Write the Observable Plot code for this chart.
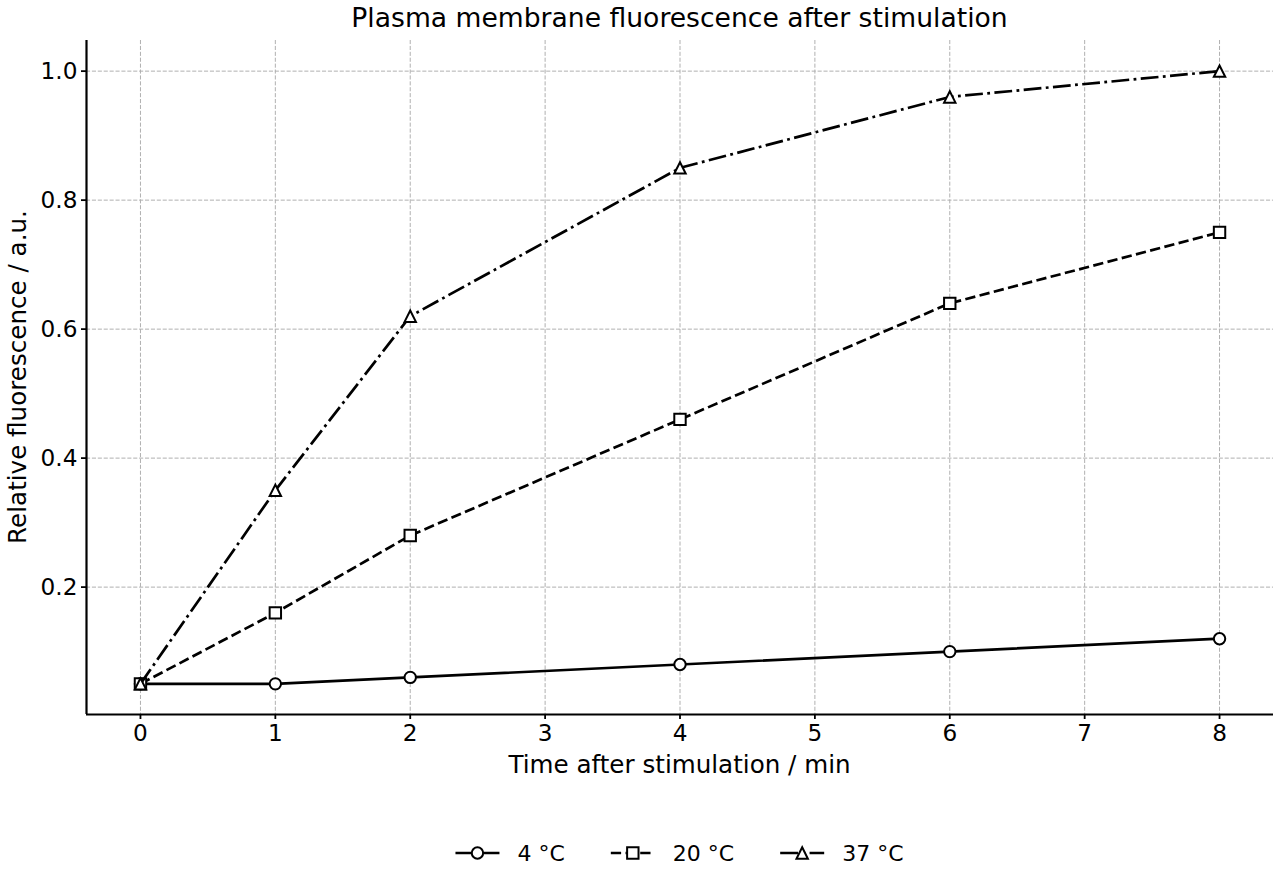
<!DOCTYPE html>
<html>
<head>
<meta charset="utf-8">
<script src="https://cdn.jsdelivr.net/npm/d3@7"></script>
<script src="https://cdn.jsdelivr.net/npm/@observablehq/plot@0.6"></script>
<style>
  body { margin: 0; background: #fff; }
  #fig { position: relative; width: 1280px; height: 880px; overflow: hidden; }
  #fig svg { display: block; }
</style>
</head>
<body>
<div id="fig"></div>
<script>
// ---- data ----
const times = [0, 1, 2, 4, 6, 8];
const seriesNames = ["4 °C", "20 °C", "37 °C"];
const values4C = [0.05, 0.05, 0.06, 0.08, 0.10, 0.12];
const values20C = [0.05, 0.16, 0.28, 0.46, 0.64, 0.75];
const values37C = [0.05, 0.35, 0.62, 0.85, 0.96, 1.00];
const xTicks = [0, 1, 2, 3, 4, 5, 6, 7, 8];
const yTicks = [0.2, 0.4, 0.6, 0.8, 1.0];
const titleText = "Plasma membrane fluorescence after stimulation";
const xLabelText = "Time after stimulation / min";
const yLabelText = "Relative fluorescence / a.u.";

const seriesValues = [values4C, values20C, values37C];
const rows = seriesNames.flatMap((s, i) => times.map((t, j) => ({series: s, time: t, value: seriesValues[i][j]})));

// ---- styles ----
const FONT = "DejaVu Sans, sans-serif";
const TICK_FS = 23.2;
const symCircle = {draw(ctx, size) { const r = Math.sqrt(size / Math.PI); ctx.moveTo(r, 0); ctx.arc(0, 0, r, 0, 2 * Math.PI); }};
const symSquare = {draw(ctx, size) { const r = Math.sqrt(size / Math.PI); ctx.rect(-r, -r, 2 * r, 2 * r); }};
const symTriangle = {draw(ctx, size) { const r = Math.sqrt(size / Math.PI); ctx.moveTo(0, -r); ctx.lineTo(r, r); ctx.lineTo(-r, r); ctx.closePath(); }};
const seriesStyle = {
  "4 °C": {symbol: symCircle, dash: null},
  "20 °C": {symbol: symSquare, dash: "10.3,4.4"},
  "37 °C": {symbol: symTriangle, dash: "17.8,4.4,2.8,4.4"}
};
const markerR = 5.7;
const lineW = 2.7;

const xDomain = [-0.4, 8.4];
const yDomain = [0.0025, 1.0475];
const gridStyle = {stroke: "#b0b0b0", strokeOpacity: 1, strokeWidth: 1, strokeDasharray: "4.1,1.8"};

const seriesMarks = seriesNames.flatMap(s => {
  const data = rows.filter(d => d.series === s);
  const st = seriesStyle[s];
  return [
    Plot.line(data, {x: "time", y: "value", stroke: "black", strokeWidth: lineW, strokeDasharray: st.dash, strokeLinecap: "butt", strokeLinejoin: "round"}),
    Plot.dot(data, {x: "time", y: "value", symbol: st.symbol, r: markerR, fill: "white", stroke: "black", strokeWidth: 2})
  ];
});

const chart = Plot.plot({
  width: 1280,
  height: 880,
  marginLeft: 86,
  marginRight: 7,
  marginTop: 40,
  marginBottom: 166,
  style: {fontFamily: FONT, fontSize: TICK_FS + "px", color: "black", background: "white"},
  x: {domain: xDomain},
  y: {domain: yDomain},
  marks: [
    Plot.gridX(xTicks, gridStyle),
    Plot.gridY(yTicks, gridStyle),
    Plot.axisX({ticks: xTicks, tickSize: 5, tickPadding: 5.5, strokeWidth: 1.8, fontSize: TICK_FS, fontFamily: FONT, tickFormat: d => String(d), label: null}),
    Plot.axisY({ticks: yTicks, tickSize: 5, tickPadding: 4, strokeWidth: 1.8, fontSize: TICK_FS, fontFamily: FONT, tickFormat: d3.format(".1f"), label: null}),
    Plot.ruleX([xDomain[0]], {stroke: "black", strokeWidth: 2.2}),
    Plot.ruleY([yDomain[0]], {stroke: "black", strokeWidth: 2.2}),
    ...seriesMarks
  ]
});

document.getElementById("fig").appendChild(chart);

const svg = d3.select(chart);
// enforce tick label size (only tick labels are text at this point)
svg.selectAll("text").style("font-size", TICK_FS + "px").style("font-family", FONT);

// ---- title, axis labels, legend ----
const plotCx = (86 + 1273) / 2;
svg.append("text").attr("x", plotCx).attr("y", 27).attr("text-anchor", "middle")
  .style("font-family", FONT).style("font-size", "26.6px").attr("fill", "black").text(titleText);
svg.append("text").attr("x", plotCx).attr("y", 773).attr("text-anchor", "middle")
  .style("font-family", FONT).style("font-size", "24.6px").attr("fill", "black").text(xLabelText);
svg.append("text").attr("transform", `translate(26,${(40 + 714) / 2}) rotate(-90)`).attr("text-anchor", "middle")
  .style("font-family", FONT).style("font-size", "24.6px").attr("fill", "black").text(yLabelText);

const legend = svg.append("g").attr("text-anchor", "start");
const ly = 853;
const items = seriesNames.map(s => {
  const g = legend.append("g");
  const st = seriesStyle[s];
  g.append("line").attr("x1", 0).attr("x2", 44).attr("y1", ly).attr("y2", ly)
    .attr("stroke", "black").attr("stroke-width", lineW).attr("stroke-dasharray", st.dash).attr("stroke-linecap", "butt");
  const p = d3.path();
  st.symbol.draw(p, Math.PI * markerR * markerR);
  g.append("path").attr("d", p.toString()).attr("transform", `translate(22,${ly})`)
    .attr("fill", "white").attr("stroke", "black").attr("stroke-width", 2);
  const t = g.append("text").attr("x", 62).attr("y", 861).attr("text-anchor", "start")
    .style("font-family", FONT).style("font-size", "22px").attr("fill", "black").text(s);
  return {g, w: 62 + t.node().getComputedTextLength()};
});
const gap = 46;
const total = d3.sum(items, d => d.w) + gap * (items.length - 1);
let x0 = plotCx - total / 2;
items.forEach(it => { it.g.attr("transform", `translate(${x0},0)`); x0 += it.w + gap; });
</script>
</body>
</html>
